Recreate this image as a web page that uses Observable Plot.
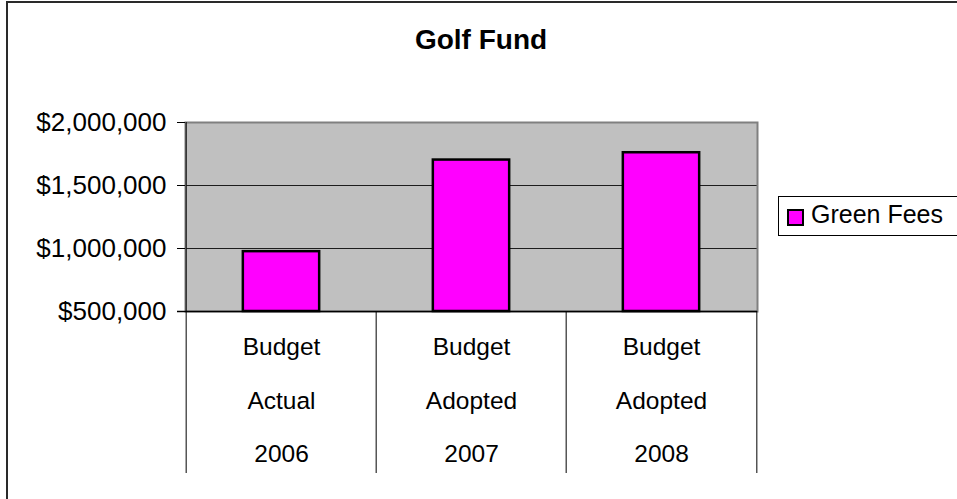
<!DOCTYPE html>
<html>
<head>
<meta charset="utf-8">
<script src="https://cdn.jsdelivr.net/npm/d3@7"></script>
<script src="https://cdn.jsdelivr.net/npm/@observablehq/plot@0.6"></script>
<style>
  html, body { margin: 0; padding: 0; background: #fff; }
  body { font-family: "Liberation Sans", Arial, sans-serif; }
  #wrap { position: relative; width: 957px; height: 499px; overflow: hidden; background: #fff; }
  #border { position: absolute; left: 6px; top: 1px; width: 1000px; height: 600px; border-left: 2px solid #2a2a2a; border-top: 2px solid #2a2a2a; }
  #title { position: absolute; left: 0; width: 962px; top: 24px; text-align: center; font-weight: bold; font-size: 28px; line-height: 32px; color: #000; }
  #legend { position: absolute; left: 778px; top: 196px; width: 220px; height: 38px; border: 1px solid #000; background: #fff; }
  #legend .sw { position: absolute; left: 8px; top: 12px; width: 13px; height: 13px; background: #ff00ff; border: 2px solid #000; }
  #legend .lb { position: absolute; left: 32px; top: 3px; font-size: 25px; line-height: 28px; color: #000; white-space: nowrap; }
  #chart { position: absolute; left: 0; top: 0; }
</style>
</head>
<body>
<div id="wrap">
  <div id="border"></div>
  <div id="title"></div>
  <div id="chart"></div>
  <div id="legend"><div class="sw"></div><div class="lb"></div></div>
</div>
<script>
// ---- data ----
const title = "Golf Fund";
const seriesName = "Green Fees";
const categories = ["Budget Actual 2006", "Budget Adopted 2007", "Budget Adopted 2008"];
const categoryLines = [["Budget", "Actual", "2006"], ["Budget", "Adopted", "2007"], ["Budget", "Adopted", "2008"]];
const greenFees = [975000, 1702000, 1760000];
const yTicks = [500000, 1000000, 1500000, 2000000];

// ---- build ----
const data = categories.map((c, i) => ({cat: c, lines: categoryLines[i].join("\n"), value: greenFees[i]}));

document.getElementById("title").textContent = title;
document.querySelector("#legend .lb").textContent = seriesName;

const W = 957, H = 499;
const mL = 185, mR = 200, mT = 122, mB = 188;
const bw = (W - mL - mR) / categories.length;
const barInset = (bw - 77) / 2;
const frameH = H - mT - mB;
const below = 162;
const catFont = 24.5;
const catLH = 53.5 / catFont;

const chart = Plot.plot({
  width: W,
  height: H,
  marginLeft: mL,
  marginRight: mR,
  marginTop: mT,
  marginBottom: mB,
  style: {fontFamily: "'Liberation Sans', Arial, sans-serif", fontSize: "25px", color: "#000", background: "transparent"},
  x: {type: "band", domain: categories, padding: 0, axis: null},
  y: {domain: [yTicks[0], yTicks[yTicks.length - 1]], axis: null},
  marks: [
    Plot.frame({fill: "#c0c0c0", stroke: null}),
    Plot.ruleY(yTicks.slice(1, -1), {stroke: "#000", strokeWidth: 1, strokeOpacity: 0.85}),
    Plot.frame({stroke: "#808080", strokeWidth: 2}),
    Plot.barY(data, {x: "cat", y1: yTicks[0], y2: "value", fill: "#ff00ff", stroke: "#000", strokeWidth: 2.5, insetLeft: barInset, insetRight: barInset}),
    // left axis line, extended below the frame
    Plot.ruleX(categories.slice(0, 1), {x: d => d, dx: -bw / 2, stroke: "#000", strokeWidth: 1, insetBottom: -below}),
    // category dividers below the plot area
    Plot.ruleX(categories.slice(1), {x: d => d, dx: -bw / 2, stroke: "#000", strokeWidth: 1, insetTop: frameH, insetBottom: -below}),
    Plot.ruleX(categories.slice(-1), {x: d => d, dx: bw / 2, stroke: "#000", strokeWidth: 1, insetTop: frameH, insetBottom: -below}),
    // bottom axis line
    Plot.ruleY(yTicks.slice(0, 1), {stroke: "#000", strokeWidth: 1.5, insetLeft: -8}),
    Plot.axisY(yTicks, {tickSize: 8, tickPadding: 11, tickFormat: d => "$" + d3.format(",")(d), fontSize: 26, stroke: "#000", label: null}),
    Plot.text(data, {x: "cat", text: "lines", frameAnchor: "bottom", lineAnchor: "top", dy: 6, lineHeight: catLH, fontSize: catFont, fill: "#000"})
  ]
});
document.getElementById("chart").appendChild(chart);
</script>
</body>
</html>
